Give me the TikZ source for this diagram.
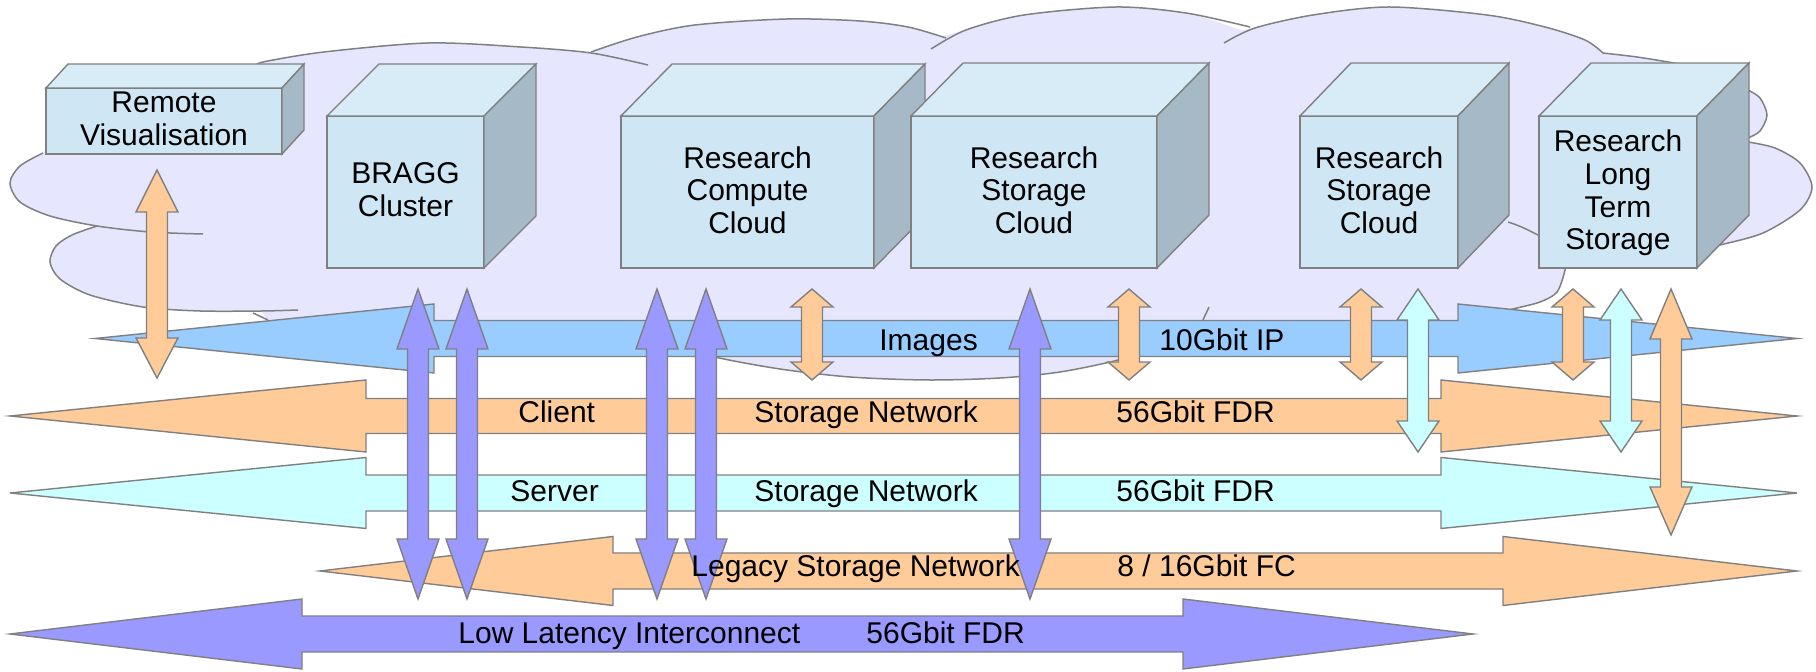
\documentclass[tikz,border=0pt]{standalone}
\usepackage{fontspec}
\setmainfont{Liberation Sans}

\definecolor{cloudfill}{RGB}{230,230,255}
\definecolor{edge}{RGB}{128,128,128}
\definecolor{imgblue}{RGB}{153,204,255}
\definecolor{peach}{RGB}{255,204,153}
\definecolor{aqua}{RGB}{204,255,255}
\definecolor{violet}{RGB}{153,153,255}
\definecolor{cubefront}{RGB}{207,231,245}
\definecolor{cubetop}{RGB}{216,236,247}
\definecolor{cubeside}{RGB}{166,185,198}

\tikzset{
  cloudline/.style={draw=edge, line width=0.75pt},
  blockedge/.style={draw=edge, line width=0.7pt, line join=miter},
  cubeedge/.style={draw=edge, line width=0.7pt},
  cubetext/.style={font=\fontsize{15}{16.35}\selectfont, align=center, inner sep=0pt, text=black},
  netlabel/.style={font=\fontsize{15}{18}\selectfont, anchor=base west, inner sep=0pt, text=black},
}

% horizontal double block arrow:
% fill, left tip x, left head base x, right head base x, right tip x, centre y, shaft half height, head half height
\newcommand\harrow[8]{%
  \filldraw[blockedge, fill=#1] (#2,#6) -- (#3,#6-#8) -- (#3,#6-#7) -- (#4,#6-#7) -- (#4,#6-#8)
    -- (#5,#6) -- (#4,#6+#8) -- (#4,#6+#7) -- (#3,#6+#7) -- (#3,#6+#8) -- cycle;}

% vertical double block arrow:
% fill, centre x, top tip y, bottom tip y, top head length, bottom head length
\newcommand\varrow[6]{%
  \filldraw[blockedge, fill=#1] (#2,#3) -- (#2+21,#3+#5) -- (#2+10.5,#3+#5) -- (#2+10.5,#4-#6)
    -- (#2+21,#4-#6) -- (#2,#4) -- (#2-21,#4-#6) -- (#2-10.5,#4-#6) -- (#2-10.5,#3+#5)
    -- (#2-21,#3+#5) -- cycle;}

% cube: name, front x1, y1, x2, y2, depth x, depth y, label, label shift
\newcommand\cube[9]{%
  \filldraw[cubeedge, fill=cubefront] (#2,#3) rectangle (#4,#5);
  \filldraw[cubeedge, fill=cubetop] (#2,#3) -- (#2+#6,#3-#7) -- (#4+#6,#3-#7) -- (#4,#3) -- cycle;
  \filldraw[cubeedge, fill=cubeside] (#4,#3) -- (#4+#6,#3-#7) -- (#4+#6,#5-#7) -- (#4,#5) -- cycle;
  \node[cubetext] (#1) at ({(#2+#4)/2},{(#3+#5)/2+#9}) {#8};}

\begin{document}
\begin{tikzpicture}[x=0.5pt, y=-0.5pt]
\useasboundingbox (0,0) rectangle (1816,672);
\fill[white] (0,0) rectangle (1816,672);

% ---------- cloud ----------
\fill[cloudfill]
  (46,150) -- (250,66) -- (263,62)
  -- plot[smooth] coordinates {(263,62) (324,52) (428,43) (521,47) (591,52)}
  -- plot[smooth] coordinates {(591,52) (637,37) (695,25) (787,19) (860,21) (908,27) (940,37)}
  -- plot[smooth] coordinates {(940,37) (966,30) (1024,15) (1116,7) (1186,13) (1240,30)}
  -- plot[smooth] coordinates {(1240,30) (1255,28) (1313,15) (1389,7) (1487,15) (1545,27) (1585,40) (1603,53)}
  -- plot[smooth] coordinates {(1603,53) (1637,57) (1668,62)}
  -- (1745,88)
  -- plot[smooth] coordinates {(1745,88) (1760,98) (1767,115) (1760,131) (1745,140)}
  -- plot[smooth] coordinates {(1745,142) (1775,148) (1800,163) (1812,187) (1800,210) (1763,233) (1720,245)}
  -- (1565,262)
  -- plot[smooth] coordinates {(1565,262) (1565,272) (1557,292) (1540,302) (1513,309)}
  -- (1419,330) -- (1130,352)
  -- plot[smooth] coordinates {(1118,360) (1060,372) (1000,378) (928,380) (850,377) (780,369) (715,357)}
  -- (700,350) -- (380,335) -- (268,321) -- (262,312)
  -- plot[smooth] coordinates {(262,312) (200,311) (143,307) (90,295) (60,279) (50,262) (56,246) (72,235) (97,226)}
  -- plot[smooth] coordinates {(97,226) (50,216) (20,202) (10,183) (20,166) (43,153)}
  -- cycle;

% cloud outline, one stroke per bump
\draw[cloudline] plot[smooth] coordinates {(258,66) (263,62) (324,52) (428,43) (521,47) (591,53) (648,65)};
\draw[cloudline] plot[smooth] coordinates {(591,52) (637,37) (695,25) (787,19) (860,21) (908,27) (946,38)};
\draw[cloudline] plot[smooth] coordinates {(931,49) (966,30) (1024,15) (1116,7) (1186,13) (1250,27)};
\draw[cloudline] plot[smooth] coordinates {(1224,43) (1255,28) (1313,15) (1389,7) (1487,15) (1545,27) (1585,40) (1603,53)};
\draw[cloudline] plot[smooth] coordinates {(1603,53) (1637,57) (1668,62) (1690,66)};
\draw[cloudline] plot[smooth] coordinates {(1740,86) (1748,90) (1760,98) (1767,115) (1760,131) (1748,138) (1740,141)};
\draw[cloudline] plot[smooth] coordinates {(1748,142) (1775,148) (1800,163) (1812,187) (1800,210) (1763,233) (1720,245) (1700,249)};
\draw[cloudline] plot[smooth] coordinates {(1566,255) (1565,270) (1557,292) (1540,302) (1513,309) (1490,315)};
\draw[cloudline] plot[smooth] coordinates {(1140,350) (1118,360) (1060,372) (1000,378) (928,380) (850,377) (780,369) (715,357) (690,347)};
\draw[cloudline] plot[smooth] coordinates {(298,310) (262,311) (200,311) (143,307) (90,295) (60,279) (50,262) (56,246) (72,235) (97,226)};
\draw[cloudline] plot[smooth] coordinates {(43,153) (20,166) (10,183) (20,202) (50,216) (97,226) (150,232) (203,234)};
\draw[cloudline] (1508,222) .. controls (1520,226) .. (1538,235);
\draw[cloudline] (1203,320) -- (1209,307);
\draw[cloudline] (253,313) -- (268,320);

% ---------- systems ----------
\cube{rvis}{46}{88}{282}{154}{22}{24}{Remote\\Visualisation}{-2}
\cube{bragg}{327}{116}{484}{268}{52}{52}{BRAGG\\Cluster}{-2}
\cube{rcc}{621}{116}{874}{268}{51}{52}{Research\\Compute\\Cloud}{-2}
\cube{rsc}{911}{116}{1157}{268}{52}{53}{Research\\Storage\\Cloud}{-2}
\cube{rsctwo}{1300}{116}{1458}{268}{51}{53}{Research\\Storage\\Cloud}{-2}
\cube{rlts}{1539}{116}{1697}{268}{52}{53}{Research\\Long\\Term\\Storage}{1}

% ---------- networks ----------
\harrow{imgblue}{95}{434}{1458}{1797}{338.5}{18}{34.5}
\harrow{peach}{10}{366}{1441}{1797}{416}{17.5}{36}
\harrow{aqua}{10}{366}{1441}{1797}{493}{18}{35.5}
\harrow{peach}{320}{613}{1503}{1797}{571}{18}{34.5}
\harrow{violet}{10}{302}{1183}{1473}{634}{18}{35}

% ---------- links ----------
\varrow{peach}{157}{170}{378}{42}{40}
\varrow{violet}{418}{289}{599}{60}{60}
\varrow{violet}{467}{289}{599}{60}{60}
\varrow{violet}{657}{289}{599}{60}{60}
\varrow{violet}{706}{289}{599}{60}{60}
\varrow{violet}{1030}{289}{599}{60}{60}
\varrow{peach}{812}{289}{380}{18}{18}
\varrow{peach}{1129}{289}{380}{18}{18}
\varrow{peach}{1361}{289}{380}{18}{18}
\varrow{peach}{1573}{289}{380}{18}{18}
\varrow{aqua}{1418}{289}{452}{31}{31}
\varrow{aqua}{1621}{289}{452}{31}{31}
\varrow{peach}{1671}{289}{535}{50}{48}

% ---------- network labels ----------
\node[netlabel] (imgname) at (879,351) {Images};
\node[netlabel] (imgrate) at (1159,351) {10Gbit IP};
\node[netlabel] (cliname) at (518,423) {Client};
\node[netlabel] (clinet) at (754,423) {Storage Network};
\node[netlabel] (clirate) at (1116,423) {56Gbit FDR};
\node[netlabel] (srvname) at (510,502) {Server};
\node[netlabel] (srvnet) at (754,502) {Storage Network};
\node[netlabel] (srvrate) at (1116,502) {56Gbit FDR};
\node[netlabel] (legname) at (691,577) {Legacy Storage Network};
\node[netlabel] (legrate) at (1117,577) {8 / 16Gbit FC};
\node[netlabel] (llname) at (458,644) {Low Latency Interconnect};
\node[netlabel] (llrate) at (866,644) {56Gbit FDR};
\end{tikzpicture}
\end{document}
